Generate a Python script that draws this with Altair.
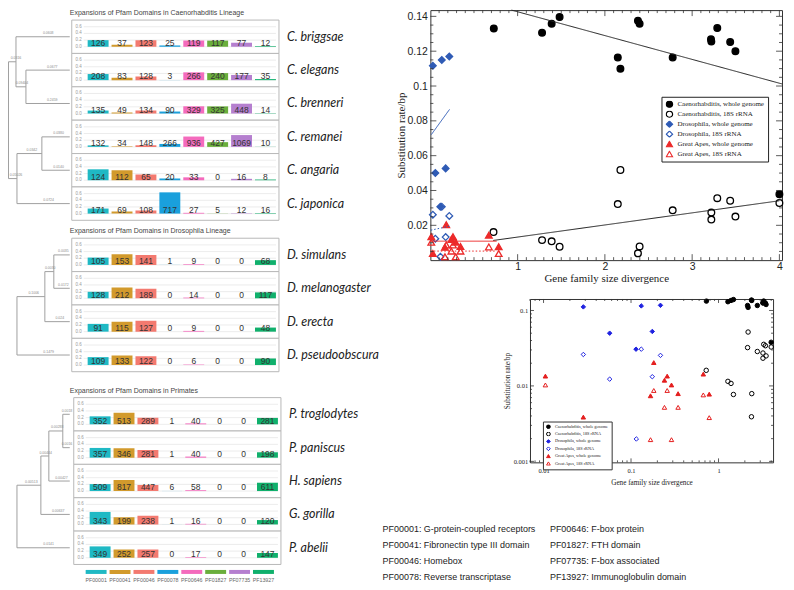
import altair as alt
import pandas as pd

# ---------------- data ----------------
PF = ['PF00001', 'PF00041', 'PF00046', 'PF00078', 'PF00646', 'PF01827', 'PF07735', 'PF13927']
PF_COLORS = ['#1fb9c4', '#d29a2c', '#f37a70', '#1aa0dc', '#f46bbd', '#6aae3c', '#b57fcf', '#10b06c']
PF_DESC = ['G-protein-coupled receptors', 'Fibronectin type III domain', 'Homebox',
           'Reverse transcriptase', 'F-box protein', 'FTH domain', 'F-box associated',
           'Immunoglobulin domain']

TITLES = ['Expansions of Pfam Domains in Caenorhabditis Lineage',
          'Expansions of Pfam Domains in Drosophila Lineage',
          'Expansions of Pfam Domains in Primates']

CAENO_SPECIES = ['C. briggsae', 'C. elegans', 'C. brenneri', 'C. remanei', 'C. angaria', 'C. japonica']
CAENO_COUNTS = [
    [126, 37, 123, 25, 119, 117, 77, 12],
    [208, 83, 128, 3, 266, 240, 177, 35],
    [135, 49, 134, 90, 329, 325, 448, 14],
    [132, 34, 148, 266, 936, 427, 1069, 10],
    [124, 112, 65, 20, 33, 0, 16, 8],
    [171, 69, 108, 717, 27, 5, 12, 16],
]
DROS_SPECIES = ['D. simulans', 'D. melanogaster', 'D. erecta', 'D. pseudoobscura']
DROS_COUNTS = [
    [105, 153, 141, 1, 9, 0, 0, 68],
    [128, 212, 189, 0, 14, 0, 0, 117],
    [91, 115, 127, 0, 9, 0, 0, 48],
    [109, 133, 122, 0, 6, 0, 0, 90],
]
PRIM_SPECIES = ['P. troglodytes', 'P. paniscus', 'H. sapiens', 'G. gorilla', 'P. abelii']
PRIM_COUNTS = [
    [352, 513, 289, 1, 40, 0, 0, 281],
    [357, 346, 281, 1, 40, 0, 0, 198],
    [509, 817, 447, 6, 58, 0, 0, 611],
    [343, 199, 238, 1, 16, 0, 0, 120],
    [349, 252, 257, 0, 17, 0, 0, 147],
]

# trees: (node, parent, depth, branch label)
CAENO_TREE = [
    ('root', None, 0.5, ''),
    ('A', 'root', 8, '0.0316'),
    ('C. briggsae', 'A', 62, '0.0608'),
    ('EB', 'A', 18, '0.09404'),
    ('C. elegans', 'EB', 62, '0.0677'),
    ('C. brenneri', 'EB', 62, '0.2459'),
    ('B', 'root', 9, '0.05026'),
    ('RA', 'B', 34, '0.0342'),
    ('C. remanei', 'RA', 62, '0.0380'),
    ('C. angaria', 'RA', 62, '0.0140'),
    ('C. japonica', 'B', 62, '0.0724'),
]
DROS_TREE = [
    ('root', None, 9, ''),
    ('SME', 'root', 37, '0.1006'),
    ('SM', 'SME', 46, '0.0030'),
    ('D. simulans', 'SM', 62, '0.0035'),
    ('D. melanogaster', 'SM', 62, '0.0172'),
    ('D. erecta', 'SME', 62, '0.024'),
    ('D. pseudoobscura', 'root', 62, '0.1479'),
]
PRIM_TREE = [
    ('root', None, 9, ''),
    ('TPHG', 'root', 33, '0.00513'),
    ('TPH', 'TPHG', 41, '0.00444'),
    ('TP', 'TPH', 55, '0.00288'),
    ('P. troglodytes', 'TP', 62, '0.0018'),
    ('P. paniscus', 'TP', 62, '0.0016'),
    ('H. sapiens', 'TPH', 62, '0.00427'),
    ('G. gorilla', 'TPHG', 62, '0.00637'),
    ('P. abelii', 'root', 62, '0.0141'),
]

# scatter data
SERIES = ['Caenorhabditis, whole genome', 'Caenorhabditis, 18S rRNA',
          'Drosophila, whole genome', 'Drosophila, 18S rRNA',
          'Great Apes, whole genome', 'Great Apes, 18S rRNA']
CW_X = [0.727, 1.280, 1.390, 1.481, 2.148, 2.178, 2.379, 2.398, 2.777, 3.216, 3.220, 3.288, 3.436, 3.496, 4.0]
CW_Y = [0.1331, 0.1306, 0.1358, 0.1396, 0.1164, 0.1099, 0.1375, 0.1358, 0.1164, 0.1268, 0.1255, 0.1333, 0.1253, 0.1200, 0.0379]
CR_X = [0.7235, 1.280, 1.390, 1.481, 2.148, 2.178, 2.379, 2.398, 2.777, 3.22, 3.22, 3.288, 3.436, 3.496, 4.0]
CR_Y = [0.0161, 0.0115, 0.0108, 0.0077, 0.0322, 0.0518, 0.0039, 0.0079, 0.0286, 0.0273, 0.0233, 0.0356, 0.0341, 0.0250, 0.0328]
DW_X = [0.0285, 0.057, 0.114, 0.131, 0.175, 0.217]
DW_Y = [0.1116, 0.050, 0.0307, 0.115, 0.0527, 0.117]
DR_X = [0.0285, 0.057, 0.115, 0.131, 0.175, 0.217]
DR_Y = [0.0261, 0.0123, 0.00198, 0.0307, 0.01324, 0.0254]
AW_X = [0.0105, 0.0285, 0.167, 0.182, 0.241, 0.259, 0.290, 0.345, 0.67, 0.783]
AW_Y = [0.0135, 0.00386, 0.0074, 0.0204, 0.0119, 0.0135, 0.0103, 0.0079, 0.01435, 0.00778]
AR_X = [0.0105, 0.167, 0.182, 0.241, 0.259, 0.290, 0.345, 0.67, 0.783]
AR_Y = [0.0103, 0.00194, 0.0087, 0.0052, 0.0087, 0.00194, 0.0052, 0.0076, 0.0038]

# regression lines (read endpoints)
LINE_X0 = [0.93, 0.72, 0.011, 0.005, 0.0, 0.0]
LINE_Y0 = [0.1436, 0.0113, 0.0721, 0.0172, 0.0109, 0.0052]
LINE_X1 = [4.03, 4.0, 0.22, 0.22, 0.76, 0.76]
LINE_Y1 = [0.1012, 0.0341, 0.0866, 0.0195, 0.0109, 0.0052]
LINE_STYLE = ['solid', 'solid', 'solid', 'dotted', 'solid', 'dotted']
LINE_GROUP = ['k', 'k', 'b', 'b', 'r', 'r']

Y_TICKS = [0.0, 0.2, 0.4, 0.6]

# ---------------- helpers ----------------
PANEL_W = 208
PANEL_H = 33.5
TREE_W = 62
SANS = 'Liberation Sans'
SERIF = 'Liberation Serif'

pf_scale_color = alt.Scale(domain=PF, range=PF_COLORS)


def band_x(axis=None):
    return alt.X('pf:N', sort=PF, axis=axis,
                 scale=alt.Scale(domain=PF, paddingInner=0.125, paddingOuter=0.396, align=0.84))


def spacer(w, h):
    return alt.Chart(pd.DataFrame({'s': [0]})).mark_point(size=0, opacity=0).encode(
        x=alt.value(0), y=alt.value(0)).properties(width=w, height=h)


def title_chart(text, h, ty):
    return alt.Chart(pd.DataFrame({'t': [text]})).mark_text(
        align='left', baseline='middle', fontSize=7, color='#444', font=SANS).encode(
        x=alt.value(TREE_W), y=alt.value(ty), text='t:N').properties(width=1, height=h)


def panels_chart(counts):
    """All panels of one lineage in one chart; each panel spans one unit of y (value -0.2..0.8)."""
    n = len(counts)
    rows, frames, ticks = [], [], []
    for i, c in enumerate(counts):
        total = sum(c)
        base = n - 1 - i
        frames.append({'b': base, 't': base + 1})
        for t in Y_TICKS:
            ticks.append({'y': base + 0.2 + t, 'lab': '%.1f' % t})
        for pf, v in zip(PF, c):
            rows.append({'pf': pf, 'n': v, 'y0': base + 0.2, 'y1': base + 0.2 + v / total, 'yt': base + 0.31})
    ys = alt.Scale(domain=[0, n], nice=False, zero=False)
    df = pd.DataFrame(rows)
    frame = alt.Chart(pd.DataFrame(frames)).mark_rect(fill='white', stroke='#b8b8b8', strokeWidth=1).encode(
        x=alt.value(0), x2=alt.value(PANEL_W), y=alt.Y('b:Q', scale=ys, axis=None), y2='t:Q')
    tdf = pd.DataFrame(ticks)
    grid = alt.Chart(tdf).mark_rule(stroke='#e4e4e4', strokeWidth=0.7).encode(
        y=alt.Y('y:Q', scale=ys, axis=None), x=alt.value(12), x2=alt.value(205))
    tlab = alt.Chart(tdf).mark_text(align='right', baseline='middle', fontSize=4.5,
                                    color='#9a9a9a', font=SANS).encode(
        y=alt.Y('y:Q', scale=ys, axis=None), x=alt.value(10), text='lab:N')
    bars = alt.Chart(df).mark_bar().encode(
        x=band_x(), y=alt.Y('y0:Q', scale=ys, axis=None), y2='y1:Q',
        color=alt.Color('pf:N', scale=pf_scale_color, legend=None))
    labs = alt.Chart(df).mark_text(fontSize=8.5, baseline='middle', color='#333', font=SANS).encode(
        x=band_x(), y=alt.Y('yt:Q', scale=ys, axis=None), text='n:Q')
    return alt.layer(frame, grid, tlab, bars, labs).properties(width=PANEL_W, height=n * PANEL_H)


def tree_chart(nodes, leaves):
    n = len(leaves)
    info = {name: (p, x) for name, p, x, lab in nodes}
    children = {}
    for name, p, x, lab in nodes:
        if p is not None:
            children.setdefault(p, []).append(name)
    ypos = {}

    def gety(name):
        if name in ypos:
            return ypos[name]
        if name in leaves:
            y = leaves.index(name)
        else:
            yy = [gety(c) for c in children[name]]
            y = (min(yy) + max(yy)) / 2
        ypos[name] = y
        return y

    for name in info:
        gety(name)
    segs, labs = [], []
    for name, p, x, lab in nodes:
        if p is not None:
            px = info[p][1]
            segs.append({'x': px, 'x2': x, 'y': ypos[name], 'y2': ypos[name]})
            labs.append({'x': max(px + 0.6 * (x - px), 8), 'y': ypos[name], 't': lab})
        if name in children:
            yy = [ypos[c] for c in children[name]]
            segs.append({'x': x, 'x2': x, 'y': min(yy), 'y2': max(yy)})
    xs = alt.Scale(domain=[0, TREE_W], nice=False, zero=False)
    ys = alt.Scale(domain=[-0.5, n - 0.5], nice=False, zero=False, reverse=True)
    rules = alt.Chart(pd.DataFrame(segs)).mark_rule(color='#a0a0a0', strokeWidth=1).encode(
        x=alt.X('x:Q', scale=xs, axis=None), x2='x2:Q',
        y=alt.Y('y:Q', scale=ys, axis=None), y2='y2:Q')
    texts = alt.Chart(pd.DataFrame(labs)).mark_text(fontSize=3.5, color='#8a8a8a', dy=-1.5,
                                                    baseline='bottom', font=SANS).encode(
        x=alt.X('x:Q', scale=xs, axis=None), y=alt.Y('y:Q', scale=ys, axis=None), text='t:N')
    return alt.layer(rules, texts).properties(width=TREE_W, height=n * PANEL_H)


def species_labels(species):
    df = pd.DataFrame({'sp': species})
    return alt.Chart(df).mark_text(align='left', baseline='middle', fontSize=12.5, fontStyle='italic',
                                   font='Lato', color='#222', dx=7).encode(
        y=alt.Y('sp:N', sort=species, axis=None), x=alt.value(0), text='sp:N'
    ).properties(width=100, height=len(species) * PANEL_H)


def section(species, counts, tree):
    return alt.hconcat(tree_chart(tree, species), panels_chart(counts), species_labels(species), spacing=0)


strip = alt.Chart(pd.DataFrame({'pf': PF})).mark_bar().encode(
    x=band_x(alt.Axis(title=None, labelAngle=0, ticks=False, domain=False, labelFontSize=5.3,
                      labelColor='#666', labelPadding=4, labelOverlap=False, labelFont=SANS)),
    color=alt.Color('pf:N', scale=pf_scale_color, legend=None)
).properties(width=PANEL_W, height=4)

left_col = alt.vconcat(
    title_chart(TITLES[0], 9, 3),
    section(CAENO_SPECIES, CAENO_COUNTS, CAENO_TREE),
    title_chart(TITLES[1], 15.5, 10),
    section(DROS_SPECIES, DROS_COUNTS, DROS_TREE),
    title_chart(TITLES[2], 24, 18.5),
    section(PRIM_SPECIES, PRIM_COUNTS, PRIM_TREE),
    spacer(1, 5),
    alt.hconcat(spacer(TREE_W, 4), strip, spacing=0),
    spacing=0)

# ---------------- scatter plots ----------------
pts = []
for s, xs_, ys_ in zip(SERIES, [CW_X, CR_X, DW_X, DR_X, AW_X, AR_X], [CW_Y, CR_Y, DW_Y, DR_Y, AW_Y, AR_Y]):
    for a, b in zip(xs_, ys_):
        pts.append({'series': s, 'x': a, 'y': b})
pts_df = pd.DataFrame(pts)

SHAPES = ['circle', 'circle', 'diamond', 'diamond', 'triangle-up', 'triangle-up']


def frame_ticks(xs, ys, xax, yax, xmaj, xmin, ymaj, ymin, W, H, Lmaj, Lmin):
    layers = []
    for vals, L in ((xmaj, Lmaj), (xmin, Lmin)):
        base = alt.Chart(pd.DataFrame({'v': vals})).mark_rule(color='#333', strokeWidth=0.8)
        layers.append(base.encode(x=alt.X('v:Q', scale=xs, axis=xax), y=alt.value(H), y2=alt.value(H - L)))
        layers.append(base.encode(x=alt.X('v:Q', scale=xs, axis=xax), y=alt.value(0), y2=alt.value(L)))
    for vals, L in ((ymaj, Lmaj), (ymin, Lmin)):
        base = alt.Chart(pd.DataFrame({'v': vals})).mark_rule(color='#333', strokeWidth=0.8)
        layers.append(base.encode(y=alt.Y('v:Q', scale=ys, axis=yax), x=alt.value(0), x2=alt.value(L)))
        layers.append(base.encode(y=alt.Y('v:Q', scale=ys, axis=yax), x=alt.value(W), x2=alt.value(W - L)))
    return layers


def points_layer(xs, ys, xaxis, yaxis, legend, blue, red, size, sw):
    stroke_r = ['black', 'black', blue, blue, red, red]
    fill_r = ['black', 'transparent', blue, 'transparent', red, 'transparent']
    return alt.Chart(pts_df).mark_point(filled=True, opacity=1, size=size, strokeWidth=sw).encode(
        x=alt.X('x:Q', scale=xs, axis=xaxis),
        y=alt.Y('y:Q', scale=ys, axis=yaxis),
        shape=alt.Shape('series:N', sort=SERIES, scale=alt.Scale(domain=SERIES, range=SHAPES), legend=legend),
        stroke=alt.Stroke('series:N', sort=SERIES, scale=alt.Scale(domain=SERIES, range=stroke_r), legend=legend),
        fill=alt.Fill('series:N', sort=SERIES, scale=alt.Scale(domain=SERIES, range=fill_r), legend=legend),
    )


# scatter 1 (linear)
W1, H1 = 353, 251
xs1 = alt.Scale(domain=[0, 4.03], nice=False, zero=False)
ys1 = alt.Scale(domain=[0, 0.1436], nice=False, zero=False)
BLUE1, RED1 = '#2f5bb5', '#ec2a2a'
ax1 = alt.Axis(values=[1, 2, 3, 4], format='d', ticks=False, domain=False, grid=False,
               labelFont=SANS, labelFontSize=10.5, labelColor='#222', labelPadding=1,
               title='Gene family size divergence', titleFont=SERIF, titleFontSize=11,
               titleFontWeight='normal', titleColor='#222', titlePadding=1)
ay1 = alt.Axis(values=[0.02, 0.04, 0.06, 0.08, 0.1, 0.12, 0.14], format='~g', ticks=False, domain=False,
               grid=False, labelFont=SANS, labelFontSize=10.5, labelColor='#222', labelPadding=3,
               title='Substitution rate/bp', titleFont=SERIF, titleFontSize=11,
               titleFontWeight='normal', titleColor='#222', titlePadding=1)
line_df = pd.DataFrame({'series': SERIES, 'x0': LINE_X0, 'y0': LINE_Y0, 'x1': LINE_X1, 'y1': LINE_Y1,
                        'style': LINE_STYLE, 'grp': LINE_GROUP})
line_layers = []
for g, c in (('k', '#222'), ('b', BLUE1), ('r', RED1)):
    line_layers.append(
        alt.Chart(line_df).transform_filter(alt.datum.grp == g).mark_rule(color=c, strokeWidth=1).encode(
            x=alt.X('x0:Q', scale=xs1, axis=ax1), x2='x1:Q',
            y=alt.Y('y0:Q', scale=ys1, axis=ay1), y2='y1:Q',
            strokeDash=alt.StrokeDash('style:N', scale=alt.Scale(domain=['solid', 'dotted'], range=[[1, 0], [1.5, 2]]),
                                      legend=None)))

leg1 = alt.Legend(title=None, orient='none', legendX=232, legendY=87, strokeColor='#222',
                  fillColor='white', padding=4, labelFont=SERIF, labelFontSize=7, symbolSize=40,
                  rowPadding=2, clipHeight=7, labelLimit=300, symbolStrokeWidth=1.2, labelColor='#222')
X1_MINOR = [round(0.1 * i, 2) for i in range(1, 41) if i % 10]
Y1_MINOR = [round(0.005 * i, 4) for i in range(1, 29) if i % 4]
t1 = frame_ticks(xs1, ys1, ax1, ay1, [1, 2, 3, 4], X1_MINOR, [0.02, 0.04, 0.06, 0.08, 0.1, 0.12, 0.14],
                 Y1_MINOR, W1, H1, 6, 3)
scatter1 = alt.layer(points_layer(xs1, ys1, ax1, ay1, leg1, BLUE1, RED1, 45, 1.3), *line_layers, *t1).properties(
    width=W1, height=H1, view=alt.ViewBackground(stroke='#333', strokeWidth=1))

# scatter 2 (log-log)
W2, H2 = 244, 164
xs2 = alt.Scale(type='log', domain=[0.007, 4.2], nice=False)
ys2 = alt.Scale(type='log', domain=[0.00097, 0.142], nice=False)
BLUE2, RED2 = '#1f22e0', '#e41e1e'
ax2 = alt.Axis(values=[0.01, 0.1, 1], format='~g', ticks=False, domain=False, grid=False,
               labelFont=SERIF, labelFontSize=6.5, labelColor='#222', labelPadding=5.5,
               title='Gene family size divergence', titleFont=SERIF, titleFontSize=7.2,
               titleFontWeight='normal', titleColor='#222', titlePadding=4)
ay2 = alt.Axis(values=[0.001, 0.01, 0.1], format='~g', ticks=False, domain=False, grid=False,
               labelFont=SERIF, labelFontSize=6.5, labelColor='#222', labelPadding=2.3,
               title='Substitution rate/bp', titleFont=SERIF, titleFontSize=7.2,
               titleFontWeight='normal', titleColor='#222', titlePadding=2)
leg2 = alt.Legend(title=None, orient='none', legendX=13, legendY=123, strokeColor='#333',
                  fillColor='white', padding=3, labelFont=SERIF, labelFontSize=4.3, symbolSize=14,
                  rowPadding=2.4, clipHeight=4.3, labelLimit=300, symbolStrokeWidth=1, labelColor='#222')
X2_MINOR = [k * 10 ** e for e in (-3, -2, -1, 0) for k in range(2, 10) if 0.007 <= k * 10 ** e <= 4.2]
Y2_MINOR = [k * 10 ** e for e in (-3, -2, -1) for k in range(2, 10) if 0.00097 <= k * 10 ** e <= 0.142]
t2 = frame_ticks(xs2, ys2, ax2, ay2, [0.01, 0.1, 1], X2_MINOR, [0.001, 0.01, 0.1], Y2_MINOR, W2, H2, 4, 2)
scatter2 = alt.layer(points_layer(xs2, ys2, ax2, ay2, leg2, BLUE2, RED2, 20, 1), *t2).properties(
    width=W2, height=H2, view=alt.ViewBackground(stroke='#333', strokeWidth=1))

# text block
tb_df = pd.DataFrame({'col': [i // 4 for i in range(8)], 'row': [i % 4 for i in range(8)],
                      'txt': ['%s: %s' % (p, d) for p, d in zip(PF, PF_DESC)]})
textblock = alt.Chart(tb_df).mark_text(align='left', baseline='middle', fontSize=9, font=SANS,
                                       color='#222').encode(
    x=alt.X('col:Q', scale=alt.Scale(domain=[0, 1], nice=False), axis=None),
    y=alt.Y('row:Q', scale=alt.Scale(domain=[0, 3], nice=False, reverse=True), axis=None),
    text='txt:N').properties(width=168, height=48)

IND = dict(shape='independent', fill='independent', stroke='independent')
row1 = alt.hconcat(spacer(11.5, 1), scatter1, spacing=0).resolve_scale(**IND).resolve_legend(**IND)
row2 = alt.hconcat(spacer(120, 1), scatter2, spacing=0).resolve_scale(**IND).resolve_legend(**IND)
right_col = alt.vconcat(row1, spacer(1, 9.5), row2, spacer(1, 39), textblock,
                        spacing=0).resolve_scale(**IND).resolve_legend(**IND)

chart = alt.hconcat(left_col, right_col, spacing=1).properties(
    padding=0).configure_view(strokeWidth=0)

chart.save('out.html', embed_options={'renderer': 'svg', 'actions': False})
